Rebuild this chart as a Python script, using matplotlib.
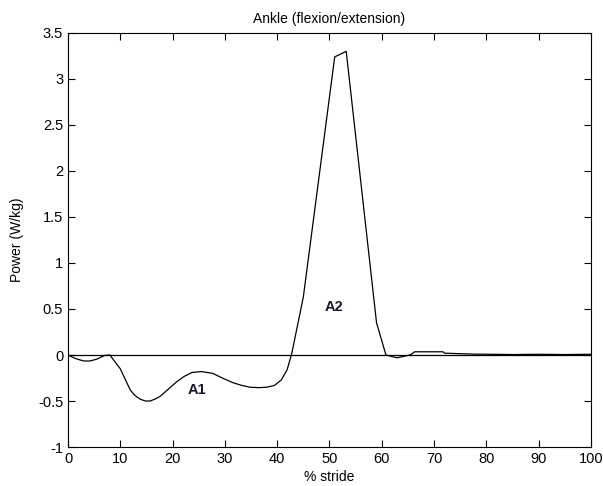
import matplotlib.pyplot as plt

# ankle power over the stride
stride = [0, 1.5, 3, 4.2, 5.5, 7, 8, 10, 11.9, 12.8, 13.8, 14.8, 15.7, 16.6, 17.6,
          19.2, 20.8, 22.3, 23.7, 25.5, 27.7, 29.5, 31.5, 33.2, 34.8, 36.5, 38,
          39.5, 40.8, 41.9, 42.8, 45, 51, 53.2, 59, 60.8, 62.9, 65.4, 66.3, 71.7,
          72, 77.4, 85, 90, 95, 100]
power = [0, -0.04, -0.065, -0.065, -0.045, -0.005, 0, -0.15, -0.38, -0.44, -0.48,
         -0.5, -0.5, -0.48, -0.45, -0.37, -0.29, -0.23, -0.19, -0.18, -0.2, -0.25,
         -0.3, -0.33, -0.35, -0.355, -0.35, -0.33, -0.27, -0.16, 0.02, 0.63, 3.24,
         3.3, 0.35, 0, -0.03, 0, 0.035, 0.035, 0.02, 0.01, 0.005, 0.008, 0.005, 0.008]
labels = ['A1', 'A2']
label_pos = [(24.7, -0.38), (50.9, 0.52)]

fig = plt.figure(figsize=(6.03, 4.86), dpi=100)
ax = fig.add_axes([0.1128, 0.0802, 0.8672, 0.852])
plt.rcParams['font.family'] = ['Liberation Sans', 'DejaVu Sans']

ax.plot(stride, power, color='black', lw=0.9)
ax.axhline(0, color='black', lw=0.9)

for lab, (x, y) in zip(labels, label_pos):
    ax.text(x, y, lab, fontsize=10.5, fontweight='bold', color='#1a1a2e',
            ha='center', va='center', family=['Liberation Sans', 'DejaVu Sans'])

ax.set_xlim(0, 100)
ax.set_ylim(-1, 3.5)
ax.set_xticks(range(0, 101, 10))
ax.set_yticks([-1, -0.5, 0, 0.5, 1, 1.5, 2, 2.5, 3, 3.5])
ax.set_yticklabels(['-1', '-0.5', '0', '0.5', '1', '1.5', '2', '2.5', '3', '3.5'])
ax.tick_params(direction='in', top=True, right=True, labelsize=10.5, length=5)
for lab in ax.get_xticklabels() + ax.get_yticklabels():
    lab.set_family(['Liberation Sans', 'DejaVu Sans'])

ax.set_title('Ankle (flexion/extension)', fontsize=10, family=['Liberation Sans', 'DejaVu Sans'], pad=7)
ax.set_xlabel('% stride', fontsize=10, family=['Liberation Sans', 'DejaVu Sans'], labelpad=3)
ax.set_ylabel('Power (W/kg)', fontsize=10, family=['Liberation Sans', 'DejaVu Sans'], labelpad=10)

fig.savefig('out.png', dpi=100)
